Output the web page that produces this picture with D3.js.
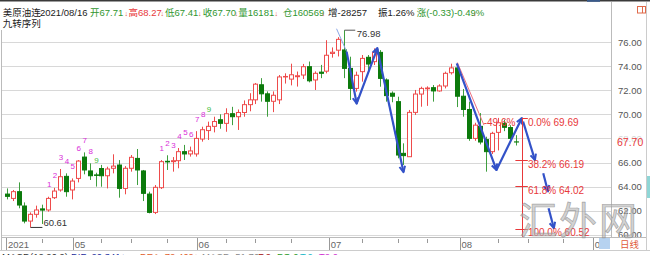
<!DOCTYPE html>
<html>
<head>
<meta charset="utf-8">
<script src="https://cdn.jsdelivr.net/npm/d3@7"></script>
<style>
  html, body { margin: 0; padding: 0; background: #fff; overflow: hidden; }
  svg { display: block; }
  text { font-family: "Liberation Sans", "Noto Sans CJK SC", sans-serif; }
</style>
</head>
<body>
<svg id="chart" width="650" height="255"></svg>
<script>
// 美原油连 日线 2021/04/16 - 2021/08/16
const opens  = [63.38,63.02,63.58,62.39,61.14,61.70,62.15,62.06,63.08,63.72,64.85,63.72,64.68,66.45,65.30,64.97,65.50,64.90,65.52,65.79,
                63.85,65.52,66.34,65.30,63.38,61.86,63.91,66.10,66.07,66.15,66.90,66.71,66.71,67.95,68.65,69.00,69.55,69.25,70.05,69.80,
                70.15,70.80,71.20,72.45,71.70,71.08,71.20,73.10,72.92,73.12,73.26,73.95,72.85,73.50,73.58,75.05,75.32,75.34,73.81,72.15,
                73.54,74.73,74.37,75.14,72.85,71.75,71.05,66.76,66.48,70.16,71.68,72.12,72.21,71.94,72.35,73.45,73.85,71.50,70.40,68.00,
                69.00,67.90,66.90,68.50,69.25,68.90,67.71];
const highs  = [63.85,63.72,64.35,62.69,61.86,62.42,62.50,63.16,63.90,65.46,65.10,64.68,66.20,66.84,65.93,65.15,65.80,65.65,66.68,66.20,
                65.70,66.62,67.12,65.38,63.58,64.13,66.20,66.60,66.45,67.20,67.46,67.32,68.60,68.97,69.39,69.80,70.00,70.50,70.62,70.40,
                71.15,71.75,72.60,73.00,71.90,71.90,73.26,73.40,74.20,73.55,74.18,74.38,73.56,74.10,76.15,75.55,76.40,76.98,74.78,73.54,
                74.92,74.92,75.47,75.33,72.98,71.90,71.46,67.59,70.36,72.02,72.29,72.32,72.43,72.49,73.54,74.20,74.00,72.10,71.05,69.30,
                70.10,68.14,68.55,69.70,69.55,69.10,68.27];
const lows   = [62.94,62.80,62.20,60.95,60.61,61.42,60.90,61.92,62.97,63.58,63.16,62.94,64.35,65.02,64.55,64.00,63.99,63.85,65.10,63.08,
                63.36,65.24,64.13,62.80,61.78,61.72,63.80,65.38,65.24,65.52,66.21,66.49,66.49,67.73,67.87,68.50,68.80,68.55,69.10,68.70,
                69.80,70.25,70.85,71.05,69.80,70.18,70.85,72.55,72.40,72.30,72.93,72.65,72.02,73.00,73.40,74.70,74.80,73.00,71.19,71.88,
                72.71,73.67,74.09,72.29,71.05,71.00,66.35,65.80,66.48,69.94,70.63,70.70,71.05,71.88,72.15,73.30,70.60,69.80,67.80,67.80,
                67.50,65.24,66.70,67.00,68.60,67.80,67.41];
const closes = [63.19,63.58,62.47,61.14,61.70,62.06,62.05,63.02,63.63,64.82,63.58,64.46,66.12,65.38,64.90,64.93,64.90,65.46,65.70,63.85,
                65.52,66.43,65.38,63.44,61.86,63.94,66.07,66.05,66.15,66.90,66.71,66.96,68.00,68.72,69.00,69.40,69.25,70.05,69.80,70.15,
                70.80,71.20,72.50,71.70,71.08,71.58,73.10,73.14,73.28,73.20,73.95,72.78,73.40,73.40,74.90,75.15,76.22,73.81,72.15,73.24,
                74.64,74.17,75.14,72.98,71.55,71.50,66.62,66.57,70.16,71.68,72.15,72.18,71.94,72.35,73.40,73.85,71.50,70.40,68.00,69.10,
                67.70,66.90,68.42,69.30,68.92,68.00,67.70];

const priceTicks  = [60, 62, 64, 66, 68, 70, 72, 74, 76];
const monthLabels = ['2021', '05', '06', '07', '08', '09'];
const monthPos    = [-0.1, 11.2, 32.1, 54.4, 76.5, 99];
const weekPos     = [6, 16, 21, 27, 37, 42, 48, 60, 66, 71, 83, 88, 94];
const tdStarts    = [7, 26];          // 九转序列 第1根
const lastPrice   = 67.70;

// 画线工具: 波浪箭头 (K线序号, 价格)
const wave1Idx = [57.4, 59.1, 62.6], wave1Px = [75.2, 70.9, 75.5];
const wave2Idx = [62.6, 67.0],       wave2Px = [75.4, 65.2];
const wave3Idx = [76.0, 82.7, 87.0], wave3Px = [74.23, 65.38, 69.69];
const projIdx  = [[87.2, 89.2], [90.6, 91.4], [91.5, 92.4]];
const projPx   = [[69.4, 66.2], [65.1, 63.6], [62.2, 60.55]];
const thinBlueIdx = [[55.7, 57.4], [62.5, 66.4]], thinBluePx = [[77.1, 75.2], [75.5, 66.6]];
const thinRedIdx  = [76.1, 80.6], thinRedPx = [74.3, 69.1];

// 黄金分割
const fibTop = 69.69, fibBottom = 60.52, fibIdx = 87.0;
const fibRatios = [0, 0.382, 0.618, 1];

const headItems = [
  ['美原油连', 2.7, '#222'], ['2021/08/16', 40, '#222'],
  ['开67.71', 90, 'g'], ['↓', 124.5, 'a'], ['高68.27', 128.5, 'r'], ['↓', 160.5, 'a'],
  ['低67.41', 165, 'g'], ['↓', 198, 'a'], ['收67.70', 202.7, 'g'], ['↓', 234.5, 'a'],
  ['量16181', 238.3, 'g'], ['↓', 274.5, 'a'], ['仓160569', 283, 'g'], ['↓', 321.5, 'a'],
  ['增-28257', 328, '#222'], ['振1.26%', 378, '#222'], ['涨(-0.33)-0.49%', 416.7, 'g'], ['↓', 473, 'a']
];
const macdItems = [
  ['MACD(12,26,9)', 2, '#333'], ['DIF: 20.341↓', 71, '#1c2c9c'], ['DEA: 72.469↓', 140, '#e0602a'],
  ['MACD: 51.762↓', 202, '#888'], ['P.0', 258, '#b02020'], ['PO.0', 277, '#2a9a2a'],
  ['T.0', 300, '#20b8c8'], ['T2.0', 319, '#d030d0']
];

const GREEN = '#2f962f', RED = '#e8383a', UP = '#ee4b4b', DOWN = '#0c7a0c', WICK_DN = '#3e9e3e', BLUE = '#3352c8';
const colorOf = c => c === 'g' ? GREEN : c === 'r' ? RED : c === 'a' ? '#e0502e' : c;

const svg = d3.select('#chart');
const x = d3.scaleLinear().domain([0, 100]).range([6.7, 6.7 + 592.2]);
const y = d3.scaleLinear().domain([60, 76]).range([234.8, 42]);
const px = v => Math.round(v) + 0.5;

// 边框
svg.append('rect').attr('x', 0).attr('y', 0).attr('width', 650).attr('height', 1.5).attr('fill', '#3a3a3a');
svg.append('rect').attr('x', 587).attr('y', 0).attr('width', 13).attr('height', 1.8).attr('fill', '#3a5a8a');
svg.append('line').attr('x1', 1.5).attr('x2', 1.5).attr('y1', 30).attr('y2', 251).attr('stroke', '#bbb');
svg.append('line').attr('x1', 611.5).attr('x2', 611.5).attr('y1', 2).attr('y2', 237).attr('stroke', '#bbb');
svg.append('line').attr('x1', 646.5).attr('x2', 646.5).attr('y1', 2).attr('y2', 251).attr('stroke', '#ccc');
svg.append('rect').attr('x', 647).attr('y', 176).attr('width', 3).attr('height', 22).attr('fill', '#8fd6d6');

// 网格
svg.append('g').selectAll('line').data(priceTicks).join('line')
  .attr('x1', 2).attr('x2', 611)
  .attr('y1', d => px(y(d))).attr('y2', d => px(y(d)))
  .attr('stroke', '#d8d8d8');

// 右侧价格轴
const yAxis = svg.append('g').attr('transform', 'translate(611,0)')
  .call(d3.axisRight(y).tickValues(priceTicks).tickFormat(d3.format('.2f')).tickSize(0).tickPadding(7));
yAxis.select('.domain').remove();
yAxis.attr('font-size', 9.5).attr('font-family', '"Liberation Sans", sans-serif');
yAxis.selectAll('text').attr('fill', '#555');

// 最新价
svg.append('rect').attr('x', 613).attr('y', y(lastPrice) - 6.5).attr('width', 33).attr('height', 13)
  .attr('fill', '#fff').attr('opacity', 0.75);
svg.append('text').attr('x', 617).attr('y', y(lastPrice) + 4).attr('font-size', 10.5)
  .attr('fill', RED).text(lastPrice.toFixed(2));

// 时间轴
svg.append('line').attr('x1', 2).attr('x2', 646).attr('y1', 237.5).attr('y2', 237.5).attr('stroke', '#bbb');
svg.append('line').attr('x1', 0).attr('x2', 650).attr('y1', 250.5).attr('y2', 250.5).attr('stroke', '#ccc');
svg.append('g').selectAll('line').data(weekPos).join('line')
  .attr('x1', d => px(x(d))).attr('x2', d => px(x(d)))
  .attr('y1', 239).attr('y2', 243).attr('stroke', '#999');
const mg = svg.append('g').selectAll('g').data(monthPos).join('g');
mg.append('line')
  .attr('x1', d => px(x(d))).attr('x2', d => px(x(d)))
  .attr('y1', 238).attr('y2', 250).attr('stroke', '#999');
mg.append('text')
  .attr('x', d => x(d) + 1.8).attr('y', 247.5)
  .attr('font-size', 9.5).attr('fill', '#666')
  .text((d, i) => monthLabels[i]);
svg.append('rect').attr('x', 599).attr('y', 238).attr('width', 11).attr('height', 11).attr('fill', '#b6d2f0');
svg.append('text').attr('x', 620).attr('y', 247.5).attr('font-size', 9.5).attr('fill', '#e05a3a').text('日线');

// K线
const candles = opens.map((o, i) => ({ i, o, h: highs[i], l: lows[i], c: closes[i], up: closes[i] >= o }));
const cg = svg.append('g').selectAll('g').data(candles).join('g');
cg.append('line')
  .attr('x1', d => px(x(d.i))).attr('x2', d => px(x(d.i)))
  .attr('y1', d => y(d.h)).attr('y2', d => y(d.l))
  .attr('stroke', d => d.up ? UP : WICK_DN);
cg.append('rect')
  .attr('x', d => px(x(d.i)) - 2).attr('width', 4)
  .attr('y', d => y(Math.max(d.o, d.c)))
  .attr('height', d => Math.max(0.01, Math.abs(y(d.o) - y(d.c))))
  .attr('fill', d => d.up ? '#fff' : DOWN)
  .attr('stroke', d => d.up ? UP : DOWN);

// 最高 / 最低 标注
const hiI = d3.maxIndex(highs), loI = d3.minIndex(lows);
svg.append('path')
  .attr('d', `M${px(x(hiI))},${y(highs[hiI])}H${x(hiI) + 11}`)
  .attr('stroke', '#555').attr('fill', 'none');
svg.append('text').attr('x', x(hiI) + 12.5).attr('y', y(highs[hiI]) + 6.5)
  .attr('font-size', 9.5).attr('fill', '#333').text(highs[hiI].toFixed(2));
svg.append('path')
  .attr('d', `M${px(x(loI))},${y(lows[loI])}H${x(loI) + 12}`)
  .attr('stroke', '#333').attr('fill', 'none');
svg.append('text').attr('x', x(loI) + 13).attr('y', y(lows[loI]) - 1.5)
  .attr('font-size', 9.5).attr('fill', '#333').text(lows[loI].toFixed(2));

// 九转序列
tdStarts.forEach(s => {
  svg.append('g').selectAll('text').data(d3.range(9)).join('text')
    .attr('x', k => x(s + k) + 1).attr('y', k => y(highs[s + k]) - 9.5)
    .attr('text-anchor', 'middle').attr('font-size', 8)
    .attr('fill', k => k === 8 ? '#3cc03c' : '#d92ed9')
    .text(k => k + 1);
});

// 画线
const line = d3.line().x(d => x(d[0])).y(d => y(d[1]));
const zip = (a, b) => a.map((v, k) => [v, b[k]]);
function arrowHead(p0, p1) {
  const a = Math.atan2(p1[1] - p0[1], p1[0] - p0[0]);
  const len = 6.5, sp = 0.45;
  const pts = [[p1[0] - len * Math.cos(a - sp), p1[1] - len * Math.sin(a - sp)], p1,
               [p1[0] - len * Math.cos(a + sp), p1[1] - len * Math.sin(a + sp)]];
  svg.append('path').attr('d', d3.line()(pts))
    .attr('fill', 'none').attr('stroke', BLUE).attr('stroke-width', 2).attr('stroke-linejoin', 'round');
}
function wave(idxs, prices) {
  const pts = zip(idxs, prices);
  svg.append('path').attr('d', line(pts))
    .attr('fill', 'none').attr('stroke', BLUE).attr('stroke-width', 2.2).attr('stroke-linejoin', 'round');
  for (let k = 1; k < pts.length; k++) {
    arrowHead([x(pts[k - 1][0]), y(pts[k - 1][1])], [x(pts[k][0]), y(pts[k][1])]);
  }
}
thinBlueIdx.forEach((a, k) => {
  svg.append('path').attr('d', line(zip(a, thinBluePx[k])))
    .attr('fill', 'none').attr('stroke', '#8aa6e6').attr('stroke-width', 1);
});
svg.append('path').attr('d', line(zip(thinRedIdx, thinRedPx)))
  .attr('fill', 'none').attr('stroke', '#f07080').attr('stroke-width', 1);
wave(wave1Idx, wave1Px);
wave(wave2Idx, wave2Px);
wave(wave3Idx, wave3Px);
projIdx.forEach((a, k) => wave(a, projPx[k]));

// 黄金分割线
const fg = svg.append('g');
fg.append('line')
  .attr('x1', px(x(fibIdx))).attr('x2', px(x(fibIdx)))
  .attr('y1', y(fibTop)).attr('y2', 237).attr('stroke', RED);
const fibLv = fibRatios.map(r => ({ r, p: fibTop - r * (fibTop - fibBottom) }));
fg.selectAll('line.t').data(fibLv).join('line').attr('class', 't')
  .attr('x1', d => d.r === 0 ? x(fibIdx) : x(fibIdx - 1.1)).attr('x2', x(fibIdx + 1))
  .attr('y1', d => px(y(d.p))).attr('y2', d => px(y(d.p)))
  .attr('stroke', RED);
fg.selectAll('text.f').data(fibLv).join('text').attr('class', 'f')
  .attr('x', x(fibIdx) + 6).attr('y', d => y(d.p) + 7.5)
  .attr('font-size', 10).attr('fill', RED)
  .text(d => `${(d.r * 100).toFixed(1)}% ${d.p.toFixed(2)}`);
fg.append('text').attr('x', x(fibIdx) - 6.5).attr('y', y(fibTop) + 7.5)
  .attr('text-anchor', 'end').attr('font-size', 10).attr('fill', RED).text('-49.6%');

// 水印
svg.append('text').attr('x', 519).attr('y', 234).attr('font-size', 38)
  .attr('font-family', '"Noto Sans CJK SC", sans-serif').attr('letter-spacing', 2)
  .attr('fill', '#b4b4b4').attr('fill-opacity', 0.6).attr('stroke', '#8a8a8a').attr('stroke-width', 0.7)
  .attr('stroke-opacity', 0.7).text('汇外网');

// 顶部行情
svg.append('text').attr('y', 16).selectAll('tspan').data(headItems).join('tspan')
  .attr('x', d => d[1]).attr('fill', d => colorOf(d[2]))
  .attr('font-size', d => d[0] === '↓' ? 7 : 9.5)
  .text(d => d[0]);
svg.append('text').attr('x', 2.7).attr('y', 27).attr('font-size', 9.5).attr('fill', '#222').text('九转序列');
svg.append('rect').attr('x', 637.5).attr('y', 6.5).attr('width', 8).attr('height', 6.5)
  .attr('fill', 'none').attr('stroke', '#e06a4a');
svg.append('line').attr('x1', 642.5).attr('x2', 642.5).attr('y1', 6.5).attr('y2', 13).attr('stroke', '#e06a4a');

// MACD 行 (被裁切)
svg.append('text').attr('y', 259.5).selectAll('tspan').data(macdItems).join('tspan')
  .attr('x', d => d[1]).attr('fill', d => d[2]).attr('font-size', 9.5)
  .text(d => d[0]);
</script>
</body>
</html>
